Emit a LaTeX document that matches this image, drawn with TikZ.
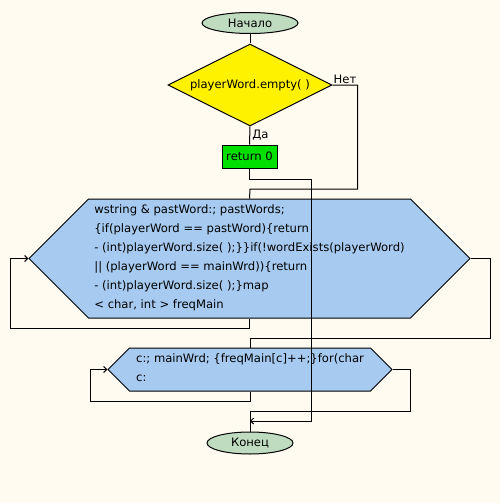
\documentclass[tikz,border=0pt]{standalone}
\usepackage{fontspec}
\setmainfont{DejaVu Sans}
\usepackage{tikz}
\usetikzlibrary{calc}
\usetikzlibrary{shapes.geometric}
\usetikzlibrary{shapes.symbols}
\usetikzlibrary{arrows.meta}
\definecolor{cream}{HTML}{FFFBF0}
\definecolor{moneygreen}{HTML}{C0DCC0}
\definecolor{skyblue}{HTML}{A6CAF0}
\definecolor{retgreen}{HTML}{00E000}

\begin{document}
\begin{tikzpicture}[x=1pt,y=-1pt,line width=1pt,
        font=\fontsize{11.6}{19}\selectfont,
        termbox/.style={draw,ellipse,fill=moneygreen,inner sep=0pt,minimum width=96pt,minimum height=21pt},
        ifbox/.style={draw,diamond,aspect=2,fill=yellow,inner sep=0pt,minimum width=164pt,minimum height=82pt},
        actbox/.style={draw,rectangle,fill=retgreen,inner sep=0pt,minimum width=55pt,minimum height=23pt},
        loopbox/.style={draw,signal,signal to=west and east,signal pointer angle=90,fill=skyblue,inner sep=0pt,align=left},
        arr/.style={-{Straight Barb[length=3pt,width=6pt]}}]
        \fill[cream] (0,0) rectangle (500,503);
        \useasboundingbox (0,0) rectangle (500,503);

        \node[termbox] (start) at (250,23) {Начало};
        \node[ifbox] (empty) at (250,85) {playerWord.empty( )};
        \node[actbox] (ret) at (249.5,156.5) {return 0};
        % first loop
        \node[loopbox,minimum width=441pt,minimum height=119pt] (loopA) at (249.5,258.5)
            {wstring \& pastWord:; pastWords;\\
             \{if(playerWord == pastWord)\{return\\
             - (int)playerWord.size( );\}\}if(!wordExists(playerWord)\hspace{6pt}\\
             || (playerWord == mainWrd))\{return\\
             - (int)playerWord.size( );\}map\\
             < char, int > freqMain\rule[-4pt]{0pt}{0pt}};
        % second loop
        \node[loopbox,minimum width=284pt,minimum height=43pt] (loopB) at (250,369.5)
            {c:; mainWrd; \{freqMain[c]++;\}for(char\hspace{8pt}\\
             c:\rule[-3pt]{0pt}{0pt}};
        \node[termbox,minimum width=86pt,minimum height=22pt] (fin) at (250,443) {Конец};

        \coordinate (joinA) at (250,189);
        \coordinate (joinB) at (250,338);
        \coordinate (joinC) at (250,411);
        \coordinate (merge) at (250,421);

        \draw (start) -- (empty);
        \draw (empty.south) -- node[right,inner sep=2pt] {Да} (ret.north);
        \draw (empty.east) -- node[above,inner sep=1pt] {Нет} ++(25,0) |- (joinA) -- (loopA.north);
        \draw[arr] (ret.south) -- ++(0,11) -| ($(merge)+(61,0)$) -- (merge);
        % loop lines
        \draw[arr] (loopA.south) -- ++(0,10) -| ($(loopA.west)+(-18,0)$) -- (loopA.west);
        \draw (loopA.east) -- ++(20,0) |- (joinB) -- (loopB.north);
        \draw[arr] (loopB.south) -- ++(0,10) -| ($(loopB.west)+(-17,0)$) -- (loopB.west);
        \draw (loopB.east) -- ++(18,0) |- (joinC) -- (fin.north);
\end{tikzpicture}
\end{document}
